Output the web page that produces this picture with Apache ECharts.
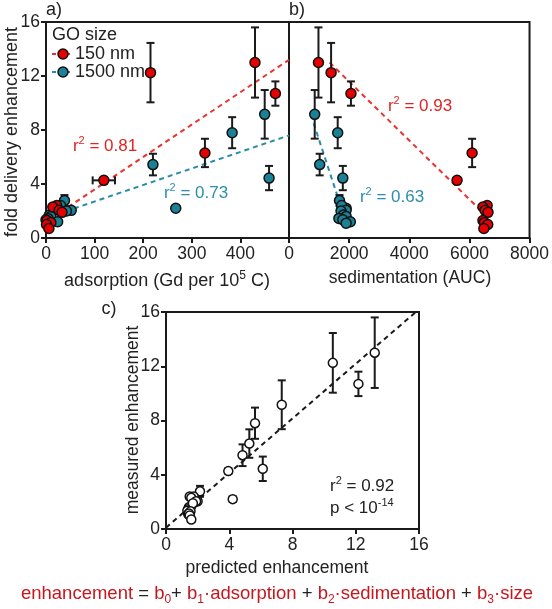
<!DOCTYPE html>
<html><head><meta charset="utf-8">
<script src="https://cdn.jsdelivr.net/npm/echarts@6/dist/echarts.min.js"></script>
<style>html,body{margin:0;padding:0;background:#fff}#c{width:552px;height:609px}</style>
</head><body><div id="c"></div>
<script>
// ---------- data ----------
// 150 nm GO
const adsRed    = [215, 430, 472, 327, 119, 22, 14, 27, 33, 2, 10, 1, 6];
const adsErrRed = [6, 0, 6, 0, 23, 0, 0, 0, 0, 0, 0, 0, 0];
const sedRed    = [1400, 980, 2060, 6090, 5590, 6590, 6450, 6520, 6620, 6450, 6500, 6610, 6480];
const enhRed    = [12.25, 13.0, 10.7, 6.3, 4.27, 2.4, 2.3, 2.05, 1.9, 1.3, 1.15, 1.0, 0.7];
const errRed    = [2.2, 2.6, 0.9, 1.05, 0.2, 0.15, 0.15, 0.15, 0.15, 0.15, 0.15, 0.15, 0.15];
const predRed   = [10.55, 13.2, 12.17, 5.27, 3.94, 1.75, 1.6, 1.9, 1.7, 1.55, 1.45, 1.5, 1.6];
// 1500 nm GO
const adsTeal   = [450, 383, 220, 459, 267, 38, 30, 52, 42, 7, 10, 4, 0, 24, 2];
const sedTeal   = [855, 1620, 1020, 1790, 1900, 1680, 1750, 1900, 1730, 1810, 1900, 1660, 1790, 2040, 1900];
const enhTeal   = [9.16, 7.8, 5.44, 4.44, 2.2, 2.78, 2.4, 2.05, 2.0, 1.7, 1.6, 1.45, 1.35, 1.2, 1.1];
const errTeal   = [1.8, 1.15, 0.8, 0.9, 0.2, 0.4, 0.15, 0.15, 0.15, 0.15, 0.15, 0.15, 0.15, 0.15, 0.15];
const predTeal  = [7.32, 5.63, 4.84, 6.12, 4.22, 2.15, 1.5, 2.0, 1.85, 1.6, 1.45, 1.4, 1.35, 1.5, 1.4];
// regression (dashed) lines: [x0, x1], [y0, y1]
const fitAdsRedX = [30, 500],  fitAdsRedY = [1.92, 13.2];
const fitAdsTealX = [40, 500], fitAdsTealY = [1.97, 7.6];
const fitSedRedX = [1350, 6350], fitSedRedY = [13.0, 2.1];
const fitSedTealX = [820, 1650], fitSedTealY = [8.5, 2.85];
const fitPredX = [0, 15.8], fitPredY = [0.1, 16];
// axis ticks
const ticksEnh = [0, 4, 8, 12, 16];
const ticksAds = [0, 100, 200, 300, 400];
const ticksSed = [0, 2000, 4000, 6000, 8000];
// r² labels
const r2Ads = ['0.81', '0.73'], r2Sed = ['0.93', '0.63'], r2Pred = '0.92';

// ---------- style ----------
const FONT = '"Liberation Sans", Arial, sans-serif';
const RED = '#e60000', TEAL = '#1b8196';
const RED_L = '#e8322f', TEAL_L = '#2a8ca6';
const RED_T = '#e02424', TEAL_T = '#2a8fa8';
const INK = '#1a1a1a';

const zip = (...arrs) => arrs[0].map((_, i) => arrs.map(a => a[i]));
const zeros = n => new Array(n).fill(0);

function errRender(params, api) {
  const x = api.value(0), y = api.value(1), ey = api.value(2), ex = api.value(3);
  const st = {stroke: INK, lineWidth: 2};
  const ch = [];
  const cap = 4;
  if (ey > 0) {
    const t = api.coord([x, y + ey]), b = api.coord([x, y - ey]);
    ch.push({type: 'line', shape: {x1: t[0], y1: t[1], x2: b[0], y2: b[1]}, style: st});
    ch.push({type: 'line', shape: {x1: t[0] - cap, y1: t[1], x2: t[0] + cap, y2: t[1]}, style: st});
    ch.push({type: 'line', shape: {x1: b[0] - cap, y1: b[1], x2: b[0] + cap, y2: b[1]}, style: st});
  }
  if (ex > 0) {
    const l = api.coord([x - ex, y]), r = api.coord([x + ex, y]);
    ch.push({type: 'line', shape: {x1: l[0], y1: l[1], x2: r[0], y2: r[1]}, style: st});
    ch.push({type: 'line', shape: {x1: l[0], y1: l[1] - cap, x2: l[0], y2: l[1] + cap}, style: st});
    ch.push({type: 'line', shape: {x1: r[0], y1: r[1] - cap, x2: r[0], y2: r[1] + cap}, style: st});
  }
  return {type: 'group', children: ch};
}

function axisX(idx, min, max, interval, ticks) {
  return {
    type: 'value', gridIndex: idx, min, max, interval,
    axisLine: {show: true, onZero: false, lineStyle: {color: INK, width: 2}},
    axisTick: {show: true, length: 5, lineStyle: {color: INK, width: 2}},
    axisLabel: {fontSize: 17.5, color: '#222', fontFamily: FONT, margin: 7,
      formatter: v => ticks.indexOf(v) >= 0 ? String(v) : ''},
    splitLine: {show: false}
  };
}
function axisY(idx, showLabels) {
  return {
    type: 'value', gridIndex: idx, min: 0, max: 16, interval: 4,
    axisLine: {show: true, onZero: false, lineStyle: {color: INK, width: 2}},
    axisTick: {show: showLabels, length: 5, lineStyle: {color: INK, width: 2}},
    axisLabel: {show: showLabels, fontSize: 17.5, color: '#222', fontFamily: FONT, margin: 6,
      formatter: v => ticksEnh.indexOf(v) >= 0 ? String(v) : ''},
    splitLine: {show: false}
  };
}
function dashed(xi, xs, ys, color) {
  return {type: 'line', xAxisIndex: xi, yAxisIndex: xi, data: zip(xs, ys), symbol: 'none',
    lineStyle: {color, width: 2, type: [5, 4]}, z: 1, silent: true, animation: false};
}
function errSeries(xi, data) {
  return {type: 'custom', xAxisIndex: xi, yAxisIndex: xi, data, renderItem: errRender,
    encode: {x: 0, y: 1}, z: 2, silent: true, animation: false, clip: false};
}
function dots(xi, xs, ys, fill, size) {
  return {type: 'scatter', xAxisIndex: xi, yAxisIndex: xi, data: zip(xs, ys), symbolSize: size || 10,
    itemStyle: {color: fill, borderColor: '#111', borderWidth: 1.5, opacity: 1}, z: 3, animation: false};
}

function richColored(color, size) {
  size = size || 17;
  return {
    a: {fontSize: size, fontFamily: FONT, lineHeight: 22, verticalAlign: 'middle', fill: color},
    s: {fontSize: Math.round(size * 0.65), fontFamily: FONT, lineHeight: 13, verticalAlign: 'top', fill: color}
  };
}
function r2Text(x, y, val, color, align) {
  return {type: 'text', x, y, z: 10,
    style: {text: '{a|r}{s|2}{a| = ' + val + '}', rich: richColored(color),
      align: align || 'center', verticalAlign: 'middle', fill: color}};
}
function plainText(x, y, txt, opts) {
  return {type: 'text', x, y, z: 10, rotation: (opts && opts.rot) || 0,
    style: Object.assign({text: txt, fontSize: 17.5, fontFamily: FONT, fill: '#222',
      align: 'center', verticalAlign: 'middle'}, opts && opts.style)};
}

const fRich = {
  r: {fontSize: 18.5, fontFamily: FONT, fill: '#c8161d', lineHeight: 24, verticalAlign: 'middle'},
  k: {fontSize: 18.5, fontFamily: FONT, fill: '#222', lineHeight: 24, verticalAlign: 'middle'},
  u: {fontSize: 12, fontFamily: FONT, fill: '#c8161d', lineHeight: 14, verticalAlign: 'bottom'}
};

const option = {
  backgroundColor: '#fff',
  animation: false,
  grid: [
    {left: 46, top: 22, width: 243, height: 216, show: true, borderColor: INK, borderWidth: 2, backgroundColor: 'transparent'},
    {left: 289, top: 22, width: 243, height: 216, show: true, borderColor: INK, borderWidth: 2, backgroundColor: 'transparent'},
    {left: 166, top: 312, width: 253, height: 217, show: true, borderColor: INK, borderWidth: 2, backgroundColor: 'transparent'}
  ],
  xAxis: [
    axisX(0, 0, 500, 100, ticksAds),
    axisX(1, 0, 8000, 2000, ticksSed),
    axisX(2, 0, 16, 4, ticksEnh)
  ],
  yAxis: [axisY(0, true), axisY(1, false), axisY(2, true)],
  series: [
    dashed(0, fitAdsRedX, fitAdsRedY, RED_L),
    dashed(0, fitAdsTealX, fitAdsTealY, TEAL_L),
    dashed(1, fitSedRedX, fitSedRedY, RED_L),
    dashed(1, fitSedTealX, fitSedTealY, TEAL_L),
    dashed(2, fitPredX, fitPredY, INK),
    errSeries(0, zip(adsRed, enhRed, errRed, adsErrRed)),
    errSeries(0, zip(adsTeal, enhTeal, errTeal, zeros(adsTeal.length))),
    errSeries(1, zip(sedRed, enhRed, errRed, zeros(sedRed.length))),
    errSeries(1, zip(sedTeal, enhTeal, errTeal, zeros(sedTeal.length))),
    errSeries(2, zip(predRed, enhRed, errRed, zeros(predRed.length))),
    errSeries(2, zip(predTeal, enhTeal, errTeal, zeros(predTeal.length))),
    dots(0, adsTeal, enhTeal, TEAL),
    dots(0, adsRed, enhRed, RED),
    dots(1, sedTeal, enhTeal, TEAL),
    dots(1, sedRed, enhRed, RED),
    dots(2, predTeal, enhTeal, '#fff', 9),
    dots(2, predRed, enhRed, '#fff', 9)
  ],
  graphic: [
    // panel labels
    plainText(54, 10, 'a)', {style: {fontSize: 18}}),
    plainText(297, 10, 'b)', {style: {fontSize: 18}}),
    plainText(109, 309, 'c)', {style: {fontSize: 18}}),
    // axis titles
    plainText(12, 132, 'fold delivery enhancement', {rot: Math.PI / 2, style: {fontSize: 18}}),
    {type: 'text', x: 167, y: 281, z: 10, style: {
      text: '{a|adsorption (Gd per 10}{s|5}{a| C)}', rich: richColored('#222', 18),
      align: 'center', verticalAlign: 'middle'}},
    plainText(410, 278, 'sedimentation (AUC)', {style: {fontSize: 17.5}}),
    plainText(133, 420, 'measured enhancement', {rot: Math.PI / 2}),
    plainText(277, 568, 'predicted enhancement'),
    // legend
    plainText(52, 35, 'GO size', {style: {align: 'left', fontSize: 18}}),
    {type: 'line', shape: {x1: 52, y1: 54, x2: 72, y2: 54}, style: {stroke: RED_L, lineWidth: 2, lineDash: [4, 3]}, z: 9},
    {type: 'circle', shape: {cx: 63, cy: 54, r: 5}, style: {fill: RED, stroke: '#111', lineWidth: 1.5}, z: 10},
    plainText(75, 54, '150 nm', {style: {align: 'left', fontSize: 18}}),
    {type: 'line', shape: {x1: 52, y1: 72, x2: 72, y2: 72}, style: {stroke: TEAL_L, lineWidth: 2, lineDash: [4, 3]}, z: 9},
    {type: 'circle', shape: {cx: 63, cy: 72, r: 5}, style: {fill: TEAL, stroke: '#111', lineWidth: 1.5}, z: 10},
    plainText(75, 72, '1500 nm', {style: {align: 'left', fontSize: 18}}),
    // r² labels
    r2Text(105, 146, r2Ads[0], RED_T),
    r2Text(196, 193, r2Ads[1], TEAL_T),
    r2Text(420, 106, r2Sed[0], RED_T),
    r2Text(392, 197, r2Sed[1], TEAL_T),
    r2Text(330, 486, r2Pred, '#222', 'left'),
    {type: 'text', x: 330, y: 508, z: 10, style: {
      text: '{a|p < 10}{s|-14}', rich: richColored('#222'), align: 'left', verticalAlign: 'middle'}},
    // formula
    {type: 'text', x: 277, y: 594, z: 10, style: {
      text: '{r|enhancement}{k| = }{r|b}{u|0}{k|+ }{r|b}{u|1}{r|·adsorption}{k| + }{r|b}{u|2}{r|·sedimentation}{k| + }{r|b}{u|3}{r|·size}',
      rich: fRich, align: 'center', verticalAlign: 'middle'}}
  ]
};

const chart = echarts.init(document.getElementById('c'), null, {renderer: 'canvas'});
chart.setOption(option);
</script>
</body></html>
